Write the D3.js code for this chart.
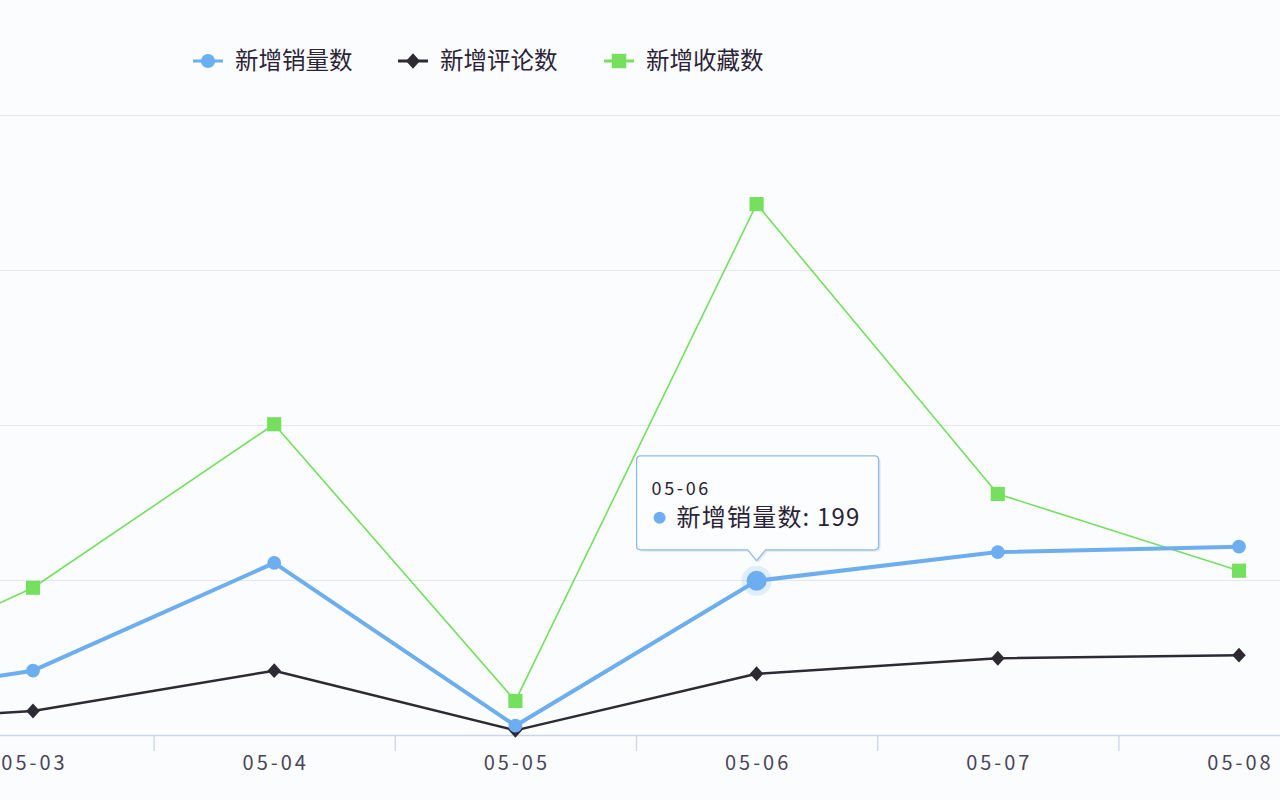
<!DOCTYPE html>
<html>
<head>
<meta charset="utf-8">
<script src="https://cdn.jsdelivr.net/npm/d3@7"></script>
<style>
  html, body { margin: 0; padding: 0; background: #fbfcfe; }
  svg { display: block; font-family: "Noto Sans CJK SC", "Noto Sans", sans-serif; }
</style>
</head>
<body>
<div id="chart"></div>
<script>
var svgWidth = 1280;
var svgHeight = 800;

// data (05-02 is only partly visible at the left edge)
var days = ["05-02", "05-03", "05-04", "05-05", "05-06", "05-07", "05-08"];
var sales = [36, 83, 222, 12, 199, 236, 243];
var comments = [13, 31, 83, 6, 79, 99, 103];
var favorites = [48, 190, 401, 44, 685, 311, 212];
var yTicks = [0, 200, 400, 600, 800];

var seriesNames = ["新增销量数", "新增评论数", "新增收藏数"];
var seriesColors = ["#6caeef", "#2e2a34", "#74e05e"];
var tipIndex = 4;

// echarts-like diamond: almost as wide as it is tall
var diamond = {
    draw: function (ctx, size) {
        var w = Math.sqrt(size) * 0.62, h = Math.sqrt(size) * 0.68;
        ctx.moveTo(0, -h);
        ctx.lineTo(w, 0);
        ctx.lineTo(0, h);
        ctx.lineTo(-w, 0);
        ctx.closePath();
    }
};

var series = [
    { name: seriesNames[0], values: sales, color: seriesColors[0], width: 4, symbol: d3.symbolCircle, size: 150 },
    { name: seriesNames[1], values: comments, color: seriesColors[1], width: 2.5, symbol: diamond, size: 120 },
    { name: seriesNames[2], values: favorites, color: seriesColors[2], width: 1.6, symbol: d3.symbolSquare, size: 200 }
];

var svg = d3.select("#chart")
    .append("svg")
    .attr("width", svgWidth)
    .attr("height", svgHeight);

// plot area is wider than the window: the chart was cropped on both sides
var xScale = d3.scaleBand()
    .domain(days)
    .range([-328.8, 1359.6]);

var yScale = d3.scaleLinear()
    .domain([0, 800])
    .range([735, 115]);

var cx = d => xScale(d) + xScale.bandwidth() / 2;

// grid lines
svg.append("g")
    .selectAll("line")
    .data(yTicks.slice(1))
    .enter()
    .append("line")
    .attr("x1", 0)
    .attr("x2", svgWidth)
    .attr("y1", d => yScale(d) + 0.5)
    .attr("y2", d => yScale(d) + 0.5)
    .attr("stroke", "#e2e7f0")
    .attr("stroke-width", 1.2);

// x axis
var bottomAxis = d3.axisBottom(xScale)
    .tickSize(0)
    .tickPadding(21);

var axis = svg.append("g")
    .attr("transform", `translate(0, ${yScale(0)})`)
    .call(bottomAxis);

axis.select(".domain")
    .attr("stroke", "#cdd5e4")
    .attr("stroke-width", 1.5);

axis.selectAll("text")
    .attr("font-size", 20)
    .attr("fill", "#4a4458")
    .attr("letter-spacing", "3px")
    .attr("dx", "1.5px")
    .attr("font-family", "'Noto Sans CJK SC', sans-serif");

// category boundary ticks
axis.append("g")
    .selectAll("line")
    .data(days.slice(1))
    .enter()
    .append("line")
    .attr("x1", d => xScale(d) + 0.5)
    .attr("x2", d => xScale(d) + 0.5)
    .attr("y1", 0)
    .attr("y2", 16)
    .attr("stroke", "#cdd5e4")
    .attr("stroke-width", 1.3);

// lines and symbols
var line = d3.line()
    .x((d, i) => cx(days[i]))
    .y(d => yScale(d));

var drawOrder = [2, 1, 0];
drawOrder.forEach(function (k) {
    var s = series[k];
    svg.append("path")
        .datum(s.values)
        .attr("fill", "none")
        .attr("stroke", s.color)
        .attr("stroke-width", s.width)
        .attr("stroke-linejoin", "round")
        .attr("d", line);
});

drawOrder.forEach(function (k) {
    var s = series[k];
    var sym = d3.symbol().type(s.symbol).size(s.size);
    svg.append("g")
        .selectAll("path")
        .data(s.values)
        .enter()
        .append("path")
        .attr("transform", (d, i) => `translate(${cx(days[i])}, ${yScale(d)})`)
        .attr("d", sym)
        .attr("fill", s.color);
});

// hovered point
var hx = cx(days[tipIndex]);
var hy = yScale(sales[tipIndex]);
svg.append("circle")
    .attr("cx", hx)
    .attr("cy", hy)
    .attr("r", 15)
    .attr("fill", seriesColors[0])
    .attr("opacity", 0.18);
svg.append("circle")
    .attr("cx", hx)
    .attr("cy", hy)
    .attr("r", 10)
    .attr("fill", seriesColors[0]);

// legend
var legendX = [193, 398, 604];
var legend = svg.append("g")
    .selectAll("g")
    .data(series)
    .enter()
    .append("g")
    .attr("transform", (d, i) => `translate(${legendX[i]}, 61)`);

legend.append("line")
    .attr("x1", 0)
    .attr("x2", 30)
    .attr("stroke", d => d.color)
    .attr("stroke-width", 3);

legend.append("path")
    .attr("transform", "translate(15, 0)")
    .attr("d", d => d3.symbol().type(d.symbol).size(d.size * 1.05)())
    .attr("fill", d => d.color);

legend.append("text")
    .attr("x", 42)
    .attr("y", 8)
    .attr("font-size", 23.5)
    .attr("fill", "#2c2436")
    .text(d => d.name);

// tooltip
var tip = svg.append("g")
    .attr("transform", `translate(${hx}, ${hy})`);

var tw = 242, th = 94, tLeft = -120, tTop = -125;
var tipPath = `M${tLeft + 4},${tTop} H${tLeft + tw - 4} Q${tLeft + tw},${tTop} ${tLeft + tw},${tTop + 4}` +
    ` V${tTop + th - 4} Q${tLeft + tw},${tTop + th} ${tLeft + tw - 4},${tTop + th}` +
    ` H9 L0,${tTop + th + 11} L-9,${tTop + th}` +
    ` H${tLeft + 4} Q${tLeft},${tTop + th} ${tLeft},${tTop + th - 4} V${tTop + 4} Q${tLeft},${tTop} ${tLeft + 4},${tTop} Z`;

tip.append("path")
    .attr("d", tipPath)
    .attr("transform", "translate(2, 2)")
    .attr("fill", "#000")
    .attr("opacity", 0.08);

tip.append("path")
    .attr("d", tipPath)
    .attr("fill", "#fdfeff")
    .attr("fill-opacity", 0.95)
    .attr("stroke", "#8cbbe8")
    .attr("stroke-width", 1.3);

tip.append("text")
    .attr("x", tLeft + 15)
    .attr("y", tTop + 39)
    .attr("font-size", 18)
    .attr("letter-spacing", "2.6px")
    .attr("fill", "#2a2236")
    .text(days[tipIndex]);

tip.append("circle")
    .attr("cx", tLeft + 23)
    .attr("cy", tTop + 62)
    .attr("r", 6)
    .attr("fill", seriesColors[0]);

tip.append("text")
    .attr("x", tLeft + 40)
    .attr("y", tTop + 70)
    .attr("font-size", 24)
    .attr("letter-spacing", "1.2px")
    .attr("fill", "#2a2236")
    .text(`${seriesNames[0]}: ${sales[tipIndex]}`);
</script>
</body>
</html>
